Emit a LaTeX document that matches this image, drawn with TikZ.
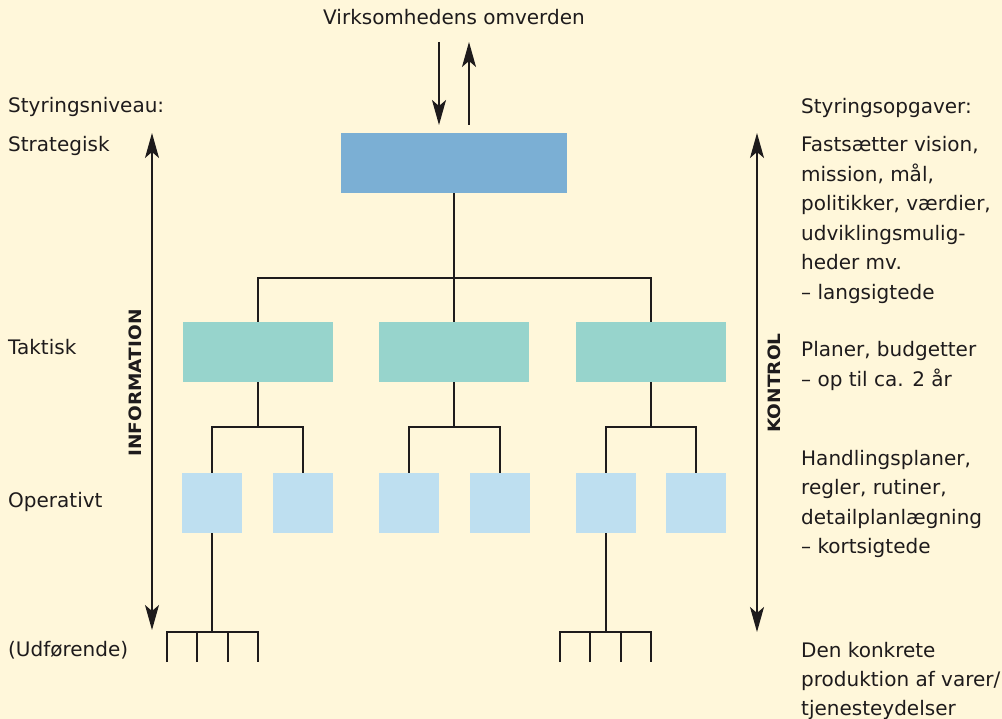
\documentclass[tikz,border=0pt]{standalone}
\usepackage{fontspec}
\setmainfont{DejaVu Sans}
\usepackage{graphicx}
\usetikzlibrary{arrows.meta}
\definecolor{bg}{HTML}{FFF7DA}
\definecolor{strat}{HTML}{7BAFD4}
\definecolor{takt}{HTML}{97D4CC}
\definecolor{oper}{HTML}{BEDFF0}
\definecolor{ink}{HTML}{1E1B1C}
\begin{document}
\begin{tikzpicture}[x=1pt,y=-1pt,
  boxS/.style={fill=strat,draw=none,inner sep=0,minimum width=226pt,minimum height=60pt},
  boxT/.style={fill=takt,draw=none,inner sep=0,minimum width=150pt,minimum height=60pt},
  boxO/.style={fill=oper,draw=none,inner sep=0,minimum width=60pt,minimum height=60pt},
  lbl/.style={anchor=base west,inner sep=0,text=ink,font=\fontsize{20}{24}\selectfont},
  toplbl/.style={anchor=base,inner sep=0,text=ink,font=\fontsize{20}{24}\selectfont},
  rotlbl/.style={rotate=90,inner sep=0,text=ink,font=\bfseries\fontsize{17}{17}\selectfont},
  conn/.style={draw=ink,line width=1.1pt},
  arr/.style={draw=ink,line width=1.2pt,-{Stealth[length=25pt,width=14pt,inset=6pt]}},
  dblarr/.style={draw=ink,line width=1.2pt,{Stealth[length=25pt,width=14pt,inset=6pt]}-{Stealth[length=25pt,width=14pt,inset=6pt]}}
]
\fill[bg] (0,0) rectangle (1002,719);
\useasboundingbox (0,0) rectangle (1002,719);

% boxes
\node[boxS] (S) at (454,163) {};
\node[boxT] (T1) at (258,352) {};
\node[boxT] (T2) at (454,352) {};
\node[boxT] (T3) at (651,352) {};
\node[boxO] (O1) at (212,503) {};
\node[boxO] (O2) at (303,503) {};
\node[boxO] (O3) at (409,503) {};
\node[boxO] (O4) at (500,503) {};
\node[boxO] (O5) at (606,503) {};
\node[boxO] (O6) at (696,503) {};

% top label and arrows
\node[toplbl] (env) at (454,25) {Virksomhedens omverden};
\coordinate (dA) at (439,42);
\coordinate (dB) at (439,125);
\coordinate (uA) at (469,125);
\coordinate (uB) at (469,42);
\draw[arr] (dA) -- (dB);
\draw[arr] (uA) -- (uB);

% strategic -> tactical
\coordinate (b1) at (454,278);
\draw[conn] (S.south) -- (b1);
\draw[conn] (T1.north) |- (b1) -| (T3.north);
\draw[conn] (T2.north) -- (b1);

% tactical -> operative
\coordinate (c1) at (258,427);
\coordinate (c2) at (454,427);
\coordinate (c3) at (651,427);
\draw[conn] (T1.south) -- (c1);
\draw[conn] (O1.north) |- (c1) -| (O2.north);
\draw[conn] (T2.south) -- (c2);
\draw[conn] (O3.north) |- (c2) -| (O4.north);
\draw[conn] (T3.south) -- (c3);
\draw[conn] (O5.north) |- (c3) -| (O6.north);

% operative -> executing forks
\coordinate (f1) at (212,632);
\coordinate (u1) at (167,662);
\coordinate (u2) at (197,662);
\coordinate (u3) at (228,662);
\coordinate (u4) at (258,662);
\draw[conn] (O1.south) -- (f1);
\draw[conn] (u1) |- (f1) -| (u4);
\draw[conn] (u2) -- (u2 |- f1);
\draw[conn] (u3) -- (u3 |- f1);

\coordinate (f2) at (606,632);
\coordinate (v1) at (560,662);
\coordinate (v2) at (590,662);
\coordinate (v3) at (621,662);
\coordinate (v4) at (651,662);
\draw[conn] (O5.south) -- (f2);
\draw[conn] (v1) |- (f2) -| (v4);
\draw[conn] (v2) -- (v2 |- f2);
\draw[conn] (v3) -- (v3 |- f2);

% side arrows
\coordinate (iT) at (152,133);
\coordinate (iB) at (152,630);
\draw[dblarr] (iT) -- (iB);
\coordinate (kT) at (757,133);
\coordinate (kB) at (757,632);
\draw[dblarr] (kT) -- (kB);
\node[rotlbl] (info) at (135.5,383) {\scalebox{1.09}[1]{INFORMATION}};
\node[rotlbl] (kontrol) at (774,383) {\scalebox{1.09}[1]{KONTROL}};

% left labels
\node[lbl] (l0) at (8,113) {Styringsniveau:};
\node[lbl] (l1) at (8,152) {Strategisk};
\node[lbl] (l2) at (8,355) {Taktisk};
\node[lbl] (l3) at (8,507) {Operativt};
\node[lbl] (l4) at (8,656) {(Udførende)};

% right labels
\node[lbl] (r0) at (801,114) {Styringsopgaver:};
\node[lbl] (r1) at (801,152) {Fastsætter vision,};
\node[lbl] (r2) at (801,181.5) {mission, mål,};
\node[lbl] (r3) at (801,211) {politikker, værdier,};
\node[lbl] (r4) at (801,240.5) {udviklingsmulig-};
\node[lbl] (r5) at (801,270) {heder mv.};
\node[lbl] (r6) at (801,299.5) {– langsigtede};
\node[lbl] (r7) at (801,357) {Planer, budgetter};
\node[lbl] (r8) at (801,386.5) {– op til ca. 2 år};
\node[lbl] (r9) at (801,465) {Handlingsplaner,};
\node[lbl] (r10) at (801,494.5) {regler, rutiner,};
\node[lbl] (r11) at (801,524) {detailplanlægning};
\node[lbl] (r12) at (801,553.5) {– kortsigtede};
\node[lbl] (r13) at (801,657) {Den konkrete};
\node[lbl] (r14) at (801,686) {produktion af varer/};
\node[lbl] (r15) at (801,715) {tjenesteydelser};
\end{tikzpicture}
\end{document}
